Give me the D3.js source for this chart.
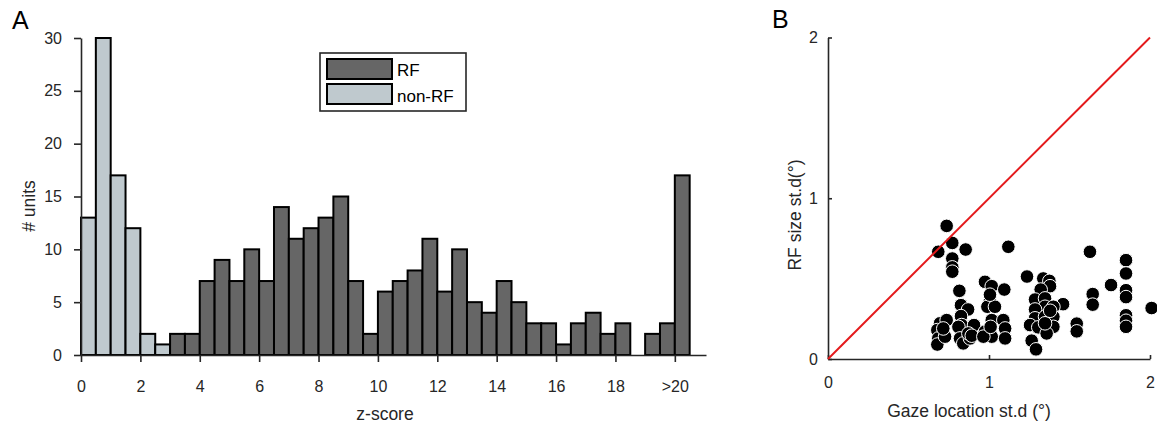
<!DOCTYPE html>
<html>
<head>
<meta charset="utf-8">
<script src="https://cdn.jsdelivr.net/npm/d3@7"></script>
<style>
  html, body { margin: 0; padding: 0; background: #fff; }
  svg { display: block; font-family: "Liberation Sans", Arial, Helvetica, sans-serif; }
  .axis path, .axis line { stroke: #262626; stroke-width: 1.6; }
  .axis text { fill: #262626; font-size: 16px; }
</style>
</head>
<body>
<svg id="fig" width="1157" height="428"></svg>
<script>
// ---- Panel A: z-score histogram (bins of 0.5) ----
const binWidth = 0.5;
// non-RF units, bins starting at 0, 0.5, ..., 2.5
const nonRfCounts = [13, 30, 17, 12, 2, 1];
const nonRfStart = 0;
// RF units, bins starting at 3.0, 3.5, ..., 20.0 (last bin holds all z > 20)
const rfCounts = [2, 2, 7, 9, 7, 10, 7, 14, 11, 12, 13, 15, 7, 2,
                  6, 7, 8, 11, 6, 10, 5, 4, 7, 5, 3, 3, 1, 3, 4, 2, 3, 0,
                  2, 3, 17];
const rfStart = 3;
const histXTicks = [0, 2, 4, 6, 8, 10, 12, 14, 16, 18, 20];
const histXTickLabels = ["0", "2", "4", "6", "8", "10", "12", "14", "16", "18", ">20"];
const histYTicks = [0, 5, 10, 15, 20, 25, 30];
const legendLabels = ["RF", "non-RF"];

// ---- Panel B: gaze location st.d vs RF size st.d (degrees) ----
const gazeStd = [
  0.737, 0.772, 0.685, 0.855, 0.772, 0.772, 0.772, 1.120, 1.627, 1.851,
  1.851, 1.851, 1.851, 1.851, 1.851, 1.851, 2.010, 1.758, 1.644, 1.644,
  1.545, 1.545, 1.460, 1.236,
  0.816, 0.826, 0.870, 0.826, 0.830, 0.696, 0.679, 0.685, 0.679, 0.737,
  0.727, 0.716, 0.810, 0.820, 0.840, 0.882, 0.907, 0.872, 0.893,
  0.975, 1.017, 1.095, 1.006, 0.990, 1.037, 1.017, 0.975, 1.017, 0.965,
  1.089, 1.100, 1.100, 1.006, 1.010,
  1.337, 1.375, 1.379, 1.321, 1.286, 1.348, 1.348, 1.286, 1.400, 1.286,
  1.348, 1.400, 1.255, 1.306, 1.400, 1.358, 1.265, 1.292, 1.348, 1.380
];
const rfSizeStd = [
  0.828, 0.722, 0.667, 0.681, 0.625, 0.570, 0.543, 0.698, 0.667, 0.615,
  0.532, 0.428, 0.385, 0.272, 0.238, 0.200, 0.317, 0.460, 0.404, 0.338,
  0.220, 0.172, 0.341, 0.513,
  0.424, 0.335, 0.308, 0.267, 0.211, 0.222, 0.180, 0.128, 0.090, 0.242,
  0.139, 0.190, 0.200, 0.128, 0.097, 0.128, 0.211, 0.159, 0.145,
  0.480, 0.453, 0.432, 0.366, 0.325, 0.325, 0.242, 0.170, 0.139, 0.139,
  0.242, 0.190, 0.128, 0.400, 0.200,
  0.501, 0.486, 0.453, 0.432, 0.370, 0.377, 0.325, 0.308, 0.325, 0.253,
  0.263, 0.263, 0.211, 0.197, 0.200, 0.159, 0.114, 0.060, 0.222, 0.300
];
const scatterTicks = [0, 1, 2];

const colors = { rf: "#666666", nonRf: "#bfc9ce", ink: "#262626", unity: "#e41a1c" };

const svg = d3.select("#fig");

// ================= Panel A =================
const hx = d3.scaleLinear().domain([0, 21.05]).range([81, 706]);
const hy = d3.scaleLinear().domain([0, 30]).range([355, 38]);

const bins = [
  ...nonRfCounts.map((c, i) => ({ x0: nonRfStart + i * binWidth, count: c, kind: "nonRf" })),
  ...rfCounts.map((c, i) => ({ x0: rfStart + i * binWidth, count: c, kind: "rf" }))
].filter(d => d.count > 0);

const gA = svg.append("g");

gA.append("g").selectAll("rect").data(bins).join("rect")
  .attr("x", d => hx(d.x0))
  .attr("y", d => hy(d.count))
  .attr("width", d => hx(d.x0 + binWidth) - hx(d.x0))
  .attr("height", d => hy(0) - hy(d.count))
  .attr("fill", d => colors[d.kind])
  .attr("stroke", "#000")
  .attr("stroke-width", 2);

const axA_x = gA.append("g").attr("class", "axis")
  .attr("transform", `translate(0,${hy(0)})`)
  .call(d3.axisBottom(hx).tickValues(histXTicks)
    .tickFormat((d, i) => histXTickLabels[i]).tickSize(7).tickSizeOuter(0));
axA_x.selectAll("text").attr("dy", null).attr("y", 37);

const axA_y = gA.append("g").attr("class", "axis")
  .attr("transform", `translate(${hx(0)},0)`)
  .call(d3.axisLeft(hy).tickValues(histYTicks).tickSize(7).tickPadding(12).tickSizeOuter(0));

gA.append("text").attr("x", 385).attr("y", 420)
  .attr("text-anchor", "middle").attr("fill", colors.ink).attr("font-size", 17.5)
  .text("z-score");
gA.append("text").attr("transform", "translate(35,206) rotate(-90)")
  .attr("text-anchor", "middle").attr("fill", colors.ink).attr("font-size", 17.5)
  .text("# units");
gA.append("text").attr("x", 12).attr("y", 29).attr("font-size", 25).attr("fill", "#000")
  .text("A");

// legend
const leg = gA.append("g");
leg.append("rect").attr("x", 320).attr("y", 53).attr("width", 146).attr("height", 58)
  .attr("fill", "#fff").attr("stroke", colors.ink).attr("stroke-width", 1.6);
[colors.rf, colors.nonRf].forEach((c, i) => {
  leg.append("rect").attr("x", 327).attr("y", 59 + i * 25).attr("width", 65).attr("height", 20)
    .attr("fill", c).attr("stroke", "#000").attr("stroke-width", 2);
  leg.append("text").attr("x", 397).attr("y", 76 + i * 26).attr("font-size", 17)
    .attr("fill", "#000").text(legendLabels[i]);
});

// ================= Panel B =================
const sx = d3.scaleLinear().domain([0, 2]).range([828, 1150]);
const sy = d3.scaleLinear().domain([0, 2]).range([359, 37.5]);

const gB = svg.append("g");

const axB_x = gB.append("g").attr("class", "axis")
  .attr("transform", `translate(0,${sy(0)})`)
  .call(d3.axisBottom(sx).tickValues(scatterTicks).tickFormat(d3.format("d"))
    .tickSize(-4).tickSizeOuter(0));
axB_x.selectAll("text").attr("dy", null).attr("y", 29);

gB.append("g").attr("class", "axis")
  .attr("transform", `translate(${sx(0)},0)`)
  .call(d3.axisLeft(sy).tickValues(scatterTicks).tickFormat(d3.format("d"))
    .tickSize(-4).tickPadding(10).tickSizeOuter(0));

const pts = gazeStd.map((g, i) => ({ g, r: rfSizeStd[i] }));
gB.append("g").selectAll("circle").data(pts).join("circle")
  .attr("cx", d => sx(d.g)).attr("cy", d => sy(d.r)).attr("r", 6.8)
  .attr("fill", "#000").attr("stroke", "#fff").attr("stroke-width", 1);

// unity line
gB.append("line")
  .attr("x1", sx(0)).attr("y1", sy(0)).attr("x2", sx(2)).attr("y2", sy(2))
  .attr("stroke", colors.unity).attr("stroke-width", 2);

gB.append("text").attr("x", 969).attr("y", 417)
  .attr("text-anchor", "middle").attr("fill", colors.ink).attr("font-size", 17.5)
  .text("Gaze location st.d (°)");
gB.append("text").attr("transform", "translate(801,215) rotate(-90)")
  .attr("text-anchor", "middle").attr("fill", colors.ink).attr("font-size", 17.5)
  .text("RF size st.d(°)");
gB.append("text").attr("x", 772).attr("y", 28).attr("font-size", 25).attr("fill", "#000")
  .text("B");
</script>
</body>
</html>
